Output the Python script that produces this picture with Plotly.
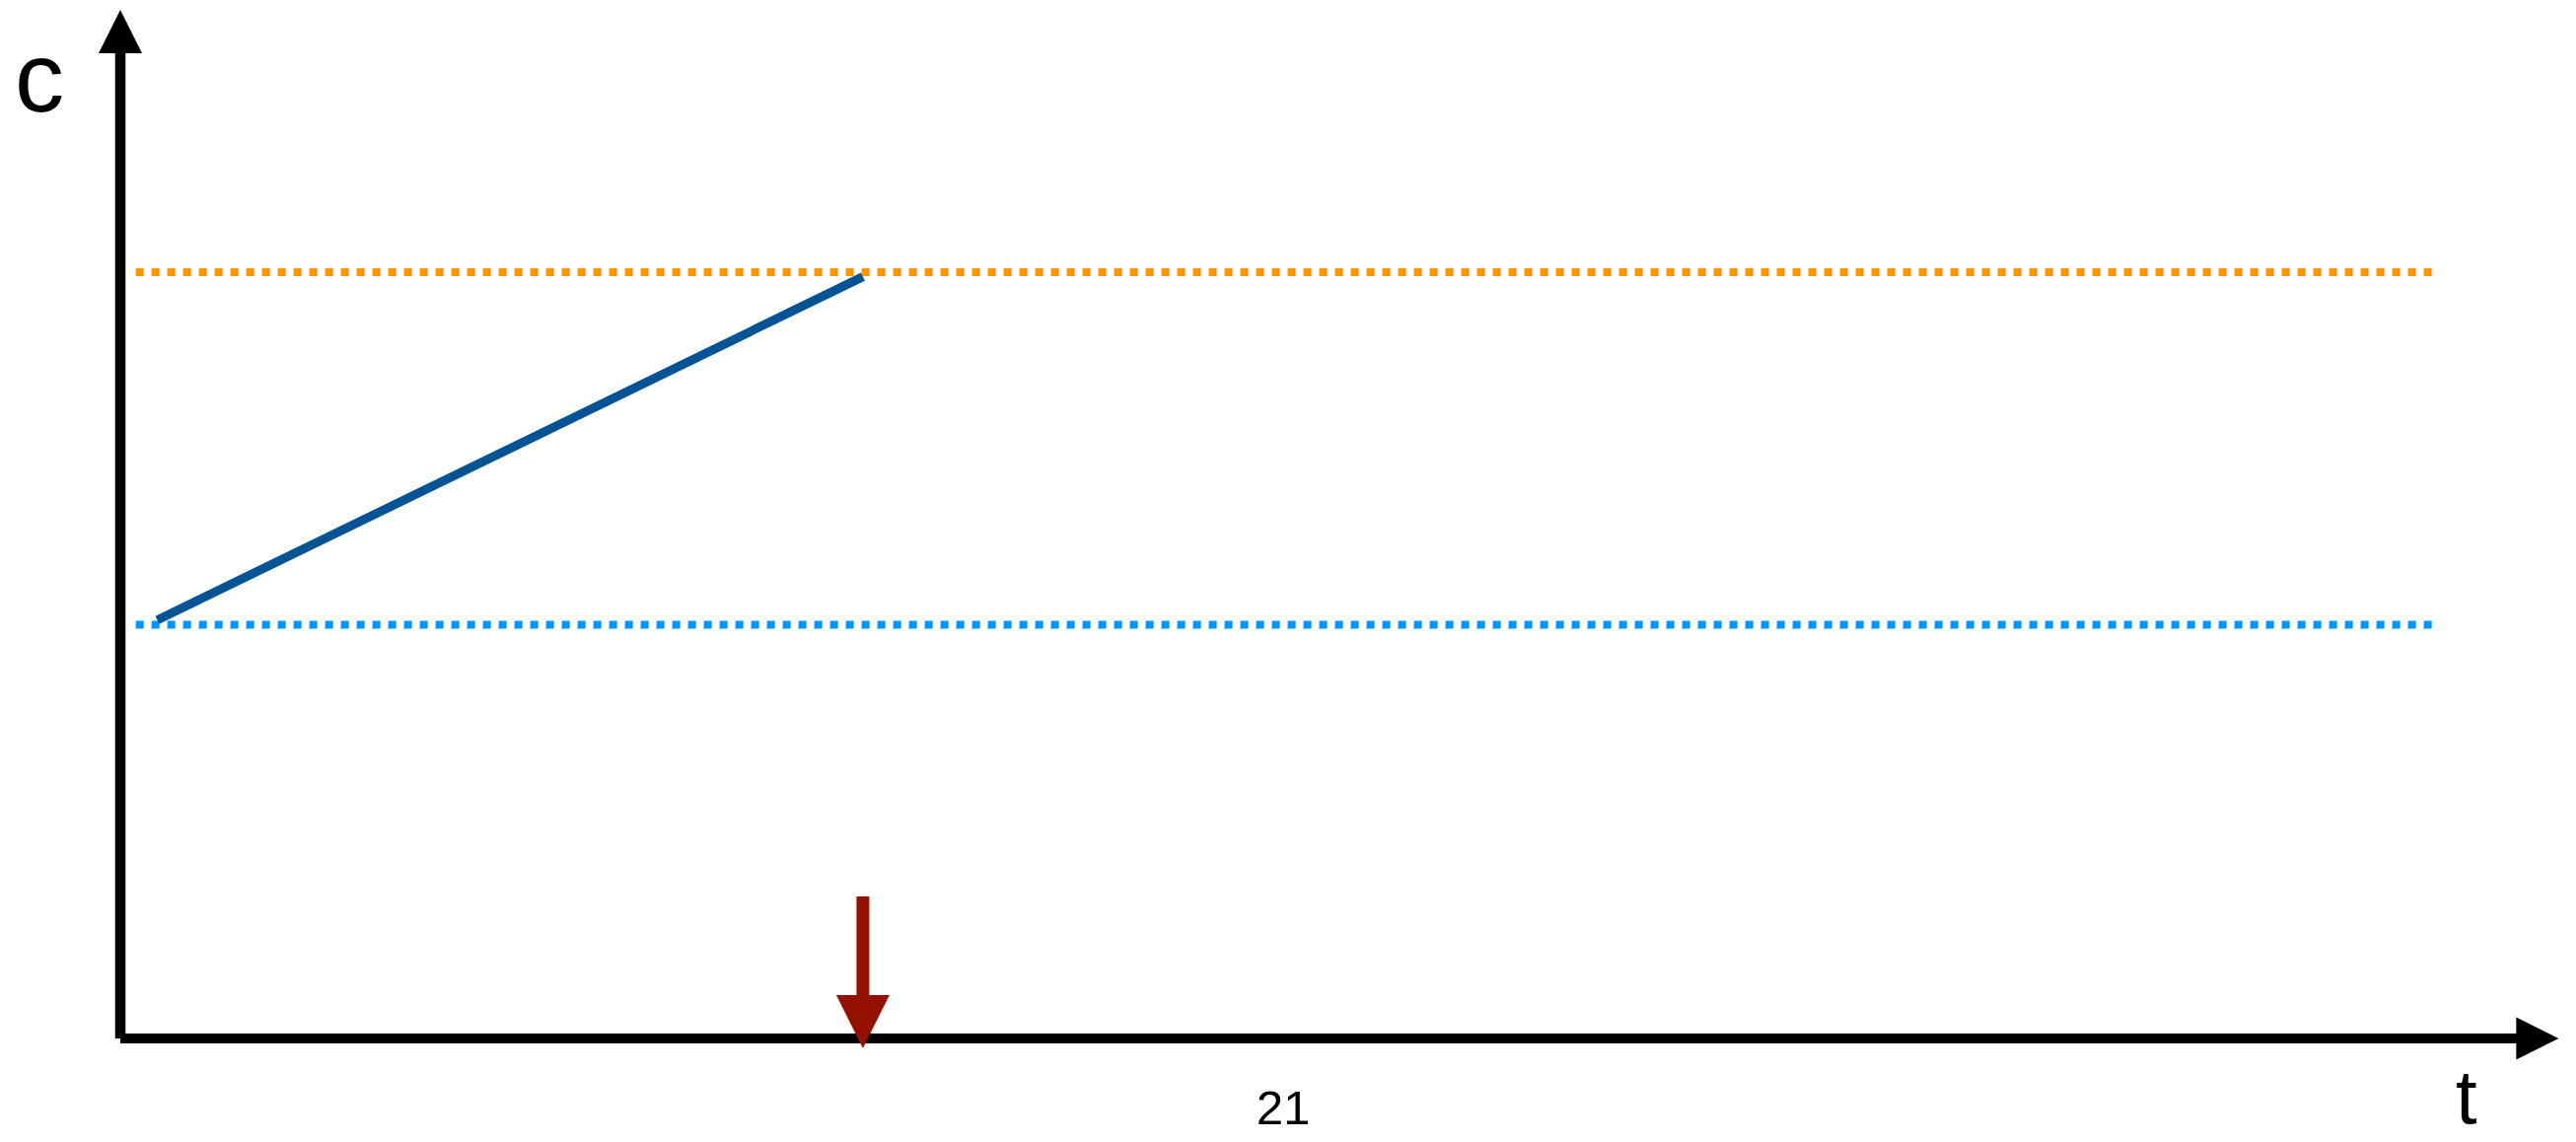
import plotly.graph_objects as go

# Concentration c over time t: starting level, saturation level and the rise
# between them, ending at the event marked on the time axis.
t_range = [-2.1712, 44.3139]
c_range = [-0.13514, 1.35521]

level_t = [0.28, 41.73]          # extent of the two reference levels
c_start_level = 0.54              # initial concentration (dotted blue)
c_sat_level = 1.0                 # saturation concentration (dotted orange)

rise_t = [0.667, 13.4]            # linear rise
rise_c = [0.546, 0.994]

event_t = 13.4                    # event time (red arrow)
event_c = [0.1853, 0.0566, -0.0129]   # shaft top, head base, head tip

t_axis_end = 44.0
c_axis_end = 1.3423

tick_t = 21
tick_label = "21"

BLACK = "#000000"
ORANGE = "#FF9300"
AQUA = "#0096FF"
OCEAN = "#005493"
CAYENNE = "#941100"
FONT = "Helvetica Neue, Helvetica, Liberation Sans, Arial, sans-serif"

fig = go.Figure()

# reference levels
fig.add_trace(go.Scatter(x=level_t, y=[c_sat_level] * 2, mode="lines",
                         line=dict(color=ORANGE, width=8, dash="8px,8px")))
fig.add_trace(go.Scatter(x=level_t, y=[c_start_level] * 2, mode="lines",
                         line=dict(color=AQUA, width=8, dash="8px,8px")))

# concentration rise
fig.add_trace(go.Scatter(x=rise_t, y=rise_c, mode="lines",
                         line=dict(color=OCEAN, width=9)))

# axes with arrowheads
fig.add_trace(go.Scatter(x=[0, 0], y=[0, c_axis_end - 0.04], mode="lines",
                         line=dict(color=BLACK, width=10.5)))
fig.add_trace(go.Scatter(x=[0, t_axis_end - 0.5], y=[0, 0], mode="lines",
                         line=dict(color=BLACK, width=10)))
fig.add_trace(go.Scatter(x=[0], y=[c_axis_end], mode="markers",
                         marker=dict(symbol="arrow-up", size=44, color=BLACK,
                                     line=dict(width=0))))
fig.add_trace(go.Scatter(x=[t_axis_end], y=[0], mode="markers",
                         marker=dict(symbol="arrow-right", size=43, color=BLACK,
                                     line=dict(width=0))))

# event arrow
fig.add_trace(go.Scatter(x=[event_t, event_t], y=event_c[:2], mode="lines",
                         line=dict(color=CAYENNE, width=13)))
fig.add_trace(go.Scatter(x=[event_t], y=[event_c[2]], mode="markers",
                         marker=dict(symbol="arrow-down", size=54, color=CAYENNE,
                                     line=dict(width=0))))

annotations = [
    dict(x=-1.468, y=1.2548, text="c", font=dict(size=100)),
    dict(x=42.33, y=-0.0765, text="t", font=dict(size=78)),
    dict(x=tick_t, y=-0.090, text=tick_label, font=dict(size=49)),
]
for a in annotations:
    a.update(xref="x", yref="y", showarrow=False, xanchor="center", yanchor="middle")
    a["font"].update(family=FONT, color=BLACK)

fig.update_layout(
    width=2612, height=1158,
    margin=dict(l=0, r=0, t=0, b=0),
    paper_bgcolor="white", plot_bgcolor="white",
    showlegend=False,
    annotations=annotations,
    xaxis=dict(range=t_range, visible=False, fixedrange=True),
    yaxis=dict(range=c_range, visible=False, fixedrange=True),
)

fig.write_html("out.html")
